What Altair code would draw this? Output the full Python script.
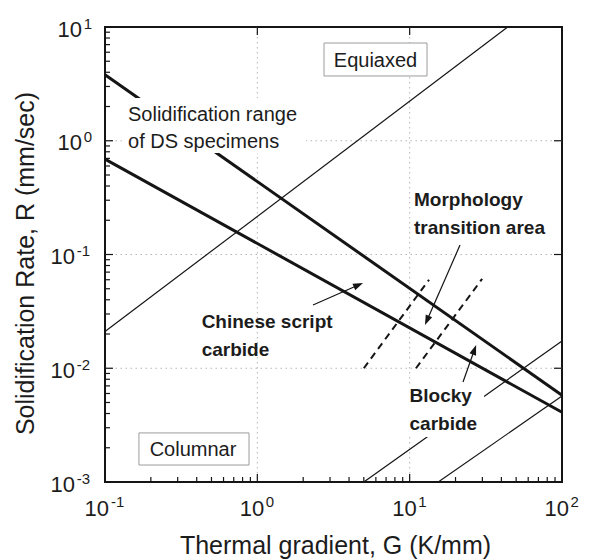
import math
import altair as alt
import pandas as pd

FONT = "Liberation Sans"
INK = "#1c1c1c"
W, H = 457, 455
G_DOMAIN = [0.1, 100]
R_DOMAIN = [0.001, 10]

# ---- lines (end points; straight in log-log) ----
thick_upper_G = [0.1, 100]
thick_upper_R = [3.8, 0.0058]
thick_lower_G = [0.1, 100]
thick_lower_R = [0.69, 0.0041]
thin_a_G = [0.1, 44]
thin_a_R = [0.021, 10]
thin_b_G = [5.0, 100]
thin_b_R = [0.001, 0.0174]
thin_c_G = [15.4, 100]
thin_c_R = [0.001, 0.0057]
dash_1_G = [5.0, 13.4]
dash_1_R = [0.01, 0.060]
dash_2_G = [11.0, 29.9]
dash_2_R = [0.01, 0.061]

# ---- annotation texts ----
normal_text = ["Solidification range", "of DS specimens"]
normal_text_G = [0.1416, 0.1416]
normal_text_R = [1.50, 0.869]
bold_text = ["Morphology", "transition area", "Chinese script", "carbide", "Blocky", "carbide"]
bold_text_G = [10.68, 10.68, 0.431, 0.431, 9.98, 9.98]
bold_text_R = [0.267, 0.1504, 0.02244, 0.01283, 0.00505, 0.002864]

box_text = ["Equiaxed", "Columnar"]
box_text_G = [5.97, 0.378]
box_text_R = [4.48, 0.001702]
box_G1 = [2.74, 0.167]
box_G2 = [13.0, 0.882]
box_R1 = [7.23, 0.0027]
box_R2 = [3.71, 0.00141]

# white areas behind labels that interrupt the lines
mask_G1 = [0.129, 9.04]
mask_G2 = [2.09, 30.8]
mask_R1 = [2.38, 0.00727]
mask_R2 = [0.78, 0.00249]

# arrows: tail -> head
arrow_tail_G = [2.32, 21.4, 22.4]
arrow_tail_R = [0.036, 0.121, 0.00757]
arrow_head_G = [4.94, 12.6, 27.3]
arrow_head_R = [0.0561, 0.024, 0.016]

# ---- ticks ----
x_major = [0.1, 1, 10, 100]
x_major_exp = ["-1", "0", "1", "2"]
y_major = [0.001, 0.01, 0.1, 1, 10]
y_major_exp = ["-3", "-2", "-1", "0", "1"]
minor_mult = [2, 3, 4, 5, 6, 7, 8, 9]
x_minor = [m * d for d in [0.1, 1, 10] for m in minor_mult]
y_minor = [m * d for d in [0.001, 0.01, 0.1, 1] for m in minor_mult]
x_grid = [1, 10]
y_grid = [0.01, 0.1, 1]

XS = alt.Scale(type="log", domain=G_DOMAIN, nice=False)
YS = alt.Scale(type="log", domain=R_DOMAIN, nice=False)

X_AXIS = alt.Axis(title="Thermal gradient, G (K/mm)", labels=False, ticks=False,
                  domain=False, grid=False, titleFont=FONT, titleFontSize=25,
                  titleFontWeight="normal", titleColor=INK, titleX=230, titleY=71,
                  titleBaseline="alphabetic", titleAlign="center")
Y_AXIS = alt.Axis(title="Solidification Rate, R (mm/sec)", labels=False, ticks=False,
                  domain=False, grid=False, titleFont=FONT, titleFontSize=25,
                  titleFontWeight="normal", titleColor=INK, titleAngle=270,
                  titleX=-72, titleY=236, titleBaseline="alphabetic", titleAlign="center")


def X(field="G"):
    return alt.X(f"{field}:Q", scale=XS, axis=X_AXIS)


def Y(field="R"):
    return alt.Y(f"{field}:Q", scale=YS, axis=Y_AXIS)


# ---- line data ----
series = [
    ("thick_upper", "thick", thick_upper_G, thick_upper_R),
    ("thick_lower", "thick", thick_lower_G, thick_lower_R),
    ("thin_a", "thin", thin_a_G, thin_a_R),
    ("thin_b", "thin", thin_b_G, thin_b_R),
    ("thin_c", "thin", thin_c_G, thin_c_R),
    ("dash_1", "dash", dash_1_G, dash_1_R),
    ("dash_2", "dash", dash_2_G, dash_2_R),
]
rows = []
for sid, kind, gs, rs in series:
    for i, (g, r) in enumerate(zip(gs, rs)):
        rows.append({"id": sid, "kind": kind, "i": i, "G": g, "R": r})
lines_df = pd.DataFrame(rows)

# grid
grid_x = alt.Chart(pd.DataFrame({"G": x_grid})).mark_rule(
    color="#b5b5b5", strokeWidth=1, strokeDash=[1.5, 3.5]
).encode(x=X())
grid_y = alt.Chart(pd.DataFrame({"R": y_grid})).mark_rule(
    color="#b5b5b5", strokeWidth=1, strokeDash=[1.5, 3.5]
).encode(y=Y())


def line_layer(kind, **style):
    return alt.Chart(lines_df[lines_df.kind == kind]).mark_line(
        color="#151515", strokeCap="butt", **style
    ).encode(x=X(), y=Y(), detail="id:N", order="i:Q")


thick = line_layer("thick", strokeWidth=3)
thin = line_layer("thin", strokeWidth=1.2)
dashed = line_layer("dash", strokeWidth=2, strokeDash=[7, 5])

masks = alt.Chart(pd.DataFrame({"G1": mask_G1, "G2": mask_G2, "R1": mask_R1, "R2": mask_R2})).mark_rect(
    fill="white", stroke=None
).encode(x=X("G1"), x2="G2:Q", y=Y("R1"), y2="R2:Q")

boxes = alt.Chart(pd.DataFrame({"G1": box_G1, "G2": box_G2, "R1": box_R1, "R2": box_R2})).mark_rect(
    fill="white", stroke="#9c9c9c", strokeWidth=1
).encode(x=X("G1"), x2="G2:Q", y=Y("R1"), y2="R2:Q")

box_labels = alt.Chart(pd.DataFrame({"t": box_text, "G": box_text_G, "R": box_text_R})).mark_text(
    font=FONT, fontSize=20, color=INK, align="center", baseline="alphabetic"
).encode(x=X(), y=Y(), text="t:N")

normal_labels = alt.Chart(pd.DataFrame({"t": normal_text, "G": normal_text_G, "R": normal_text_R})).mark_text(
    font=FONT, fontSize=20, color=INK, align="left", baseline="alphabetic"
).encode(x=X(), y=Y(), text="t:N")

bold_labels = alt.Chart(pd.DataFrame({"t": bold_text, "G": bold_text_G, "R": bold_text_R})).mark_text(
    font=FONT, fontSize=19, fontWeight="bold", color=INK, align="left", baseline="alphabetic"
).encode(x=X(), y=Y(), text="t:N")

# ---- arrows ----
PXX = W / 3.0   # px per decade (x)
PXY = H / 4.0   # px per decade (y)
HEAD = 10.0
arrow_rows, head_rows = [], []
for k, (tg, tr, hg, hr) in enumerate(zip(arrow_tail_G, arrow_tail_R, arrow_head_G, arrow_head_R)):
    dx = (math.log10(hg) - math.log10(tg)) * PXX
    dy = -(math.log10(hr) - math.log10(tr)) * PXY
    n = math.hypot(dx, dy)
    ux, uy = dx / n, dy / n
    cg = hg * 10 ** (-(ux * HEAD / 2) / PXX)
    cr = hr * 10 ** ((uy * HEAD / 2) / PXY)
    ang = math.degrees(math.atan2(ux, -uy)) % 360
    arrow_rows.append({"a": k, "i": 0, "G": tg, "R": tr})
    arrow_rows.append({"a": k, "i": 1, "G": cg, "R": cr})
    head_rows.append({"G": cg, "R": cr, "ang": ang})

arrow_lines = alt.Chart(pd.DataFrame(arrow_rows)).mark_line(
    color="#151515", strokeWidth=1.2
).encode(x=X(), y=Y(), detail="a:N", order="i:Q")
arrow_heads = alt.Chart(pd.DataFrame(head_rows)).mark_point(
    shape="M0,-1L0.7,1L-0.7,1Z", filled=True, size=100, color="#151515", opacity=1
).encode(x=X(), y=Y(), angle=alt.Angle("ang:Q", scale=None))


# ---- ticks (inward) ----
def xticks(vals, y0, y1):
    return alt.Chart(pd.DataFrame({"G": vals})).mark_rule(color="#151515", strokeWidth=1.2).encode(
        x=X(), y=alt.value(y0), y2=alt.value(y1))


def yticks(vals, x0, x1):
    return alt.Chart(pd.DataFrame({"R": vals})).mark_rule(color="#151515", strokeWidth=1.2).encode(
        y=Y(), x=alt.value(x0), x2=alt.value(x1))


ticks = [
    xticks(x_major, H, H - 8), xticks(x_minor, H, H - 5), xticks(x_major, 0, 8),
    yticks(y_major, 0, 8), yticks(y_minor, 0, 5), yticks(y_major, W, W - 8),
]

# ---- tick labels: "10" with superscript exponent ----
xl = pd.DataFrame({"G": x_major, "e": x_major_exp})
yl = pd.DataFrame({"R": y_major, "e": y_major_exp})
xl_w, xl_n = xl[xl.e.str.len() > 1], xl[xl.e.str.len() == 1]
yl_w, yl_n = yl[yl.e.str.len() > 1], yl[yl.e.str.len() == 1]


def xlab(df, dx10, dxe):
    base = alt.Chart(df)
    ten = base.mark_text(font=FONT, fontSize=22, color=INK, align="right", baseline="alphabetic", dx=dx10).encode(
        x=X(), y=alt.value(H + 34), text=alt.value("10"))
    ex = base.mark_text(font=FONT, fontSize=15, color=INK, align="left", baseline="alphabetic", dx=dxe).encode(
        x=X(), y=alt.value(H + 25), text="e:N")
    return [ten, ex]


def ylab(df, x10, xe):
    base = alt.Chart(df)
    ten = base.mark_text(font=FONT, fontSize=22, color=INK, align="right", baseline="alphabetic", dy=9.5).encode(
        y=Y(), x=alt.value(x10), text=alt.value("10"))
    ex = base.mark_text(font=FONT, fontSize=15, color=INK, align="right", baseline="alphabetic", dy=1.5).encode(
        y=Y(), x=alt.value(xe), text="e:N")
    return [ten, ex]


labels = xlab(xl_w, 4, 6) + xlab(xl_n, 7, 8.5) + ylab(yl_w, -30, -15) + ylab(yl_n, -23, -13)

chart = alt.layer(
    grid_x, grid_y, thick, thin, dashed, masks, boxes, box_labels, normal_labels, bold_labels,
    arrow_lines, arrow_heads, *ticks, *labels
).properties(
    width=W, height=H,
    autosize=alt.AutoSizeParams(type="none"),
    padding={"left": 97, "top": 19, "right": 20, "bottom": 77},
).configure_view(stroke="#151515", strokeWidth=2)

chart.save("out.html", embed_options={"renderer": "svg", "actions": False})
